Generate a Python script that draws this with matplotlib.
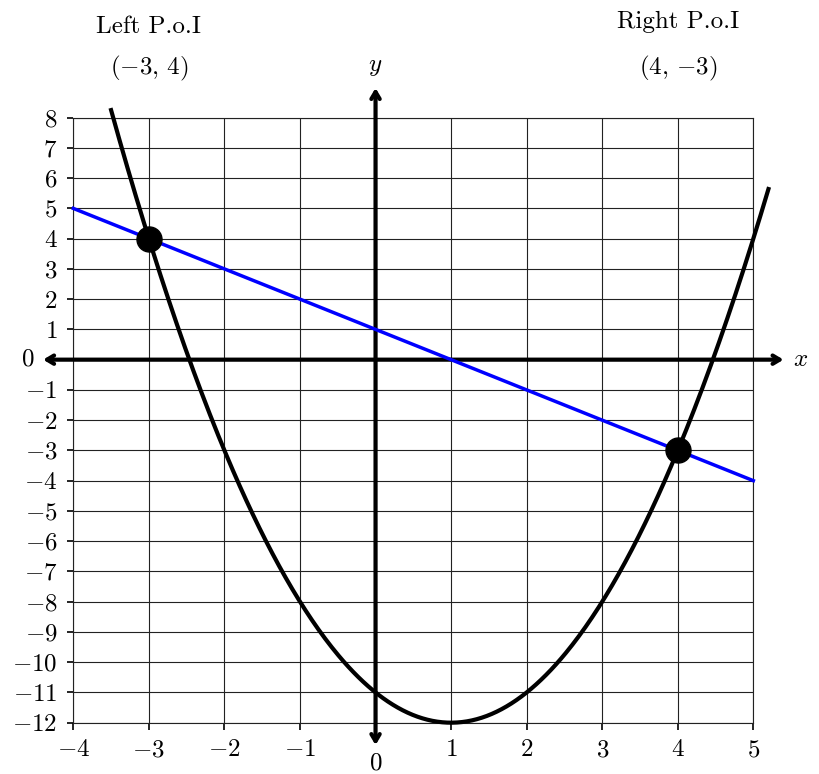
import numpy as np
import matplotlib
matplotlib.use("Agg")
import matplotlib.pyplot as plt

plt.rcParams["font.family"] = "serif"
plt.rcParams["font.serif"] = ["cmr10", "DejaVu Serif"]
plt.rcParams["mathtext.fontset"] = "cm"
plt.rcParams["axes.formatter.use_mathtext"] = True

# datos de la grafica
x_ticks = list(range(-4, 6))
y_ticks = list(range(-12, 9))
parabola_coef = [1, -2, -11]      # y = x^2 - 2x - 11
parabola_domain = [-3.5, 5.2]
line_x = [-4, 5]
line_y = [5, -4]
poi_x = [-3, 4]
poi_y = [4, -3]
poi_names = ["Left P.o.I", "Right P.o.I"]
name_heights = [10.80, 10.96]

FS = 18

fig = plt.figure(figsize=(8.2, 7.74), dpi=100)
ax = fig.add_axes([0.0894, 0.0663, 0.8293, 0.7817])
ax.set_xlim(-4, 5)
ax.set_ylim(-12, 8)

# rejilla
ax.set_xticks(x_ticks)
ax.set_yticks(y_ticks)
ax.grid(True, color="#222222", linewidth=0.8)
for s in ax.spines.values():
    s.set_linewidth(0.8)
    s.set_color("#222222")
ax.set_xticklabels(["" if v == 0 else f"${v}$" for v in x_ticks], fontsize=FS)
ax.set_yticklabels(["" if v == 0 else f"${v}$" for v in y_ticks], fontsize=FS)
ax.tick_params(axis="x", length=5, width=1.2, pad=7, direction="out")
ax.tick_params(axis="y", length=4.5, width=1.2, pad=7, direction="out")

# ejes con flechas
arrow = dict(arrowstyle="<->,head_length=0.5,head_width=0.3", lw=3, color="black",
             shrinkA=0, shrinkB=0)
ax.annotate("", xy=(5.40, 0), xytext=(-4.40, 0), arrowprops=arrow,
            annotation_clip=False, zorder=3)
ax.annotate("", xy=(0, 8.98), xytext=(0, -12.74), arrowprops=arrow,
            annotation_clip=False, zorder=3)
ax.text(5.62, 0, "$x$", fontsize=FS, ha="center", va="center")
ax.text(0, 9.67, "$y$", fontsize=FS, ha="center", va="center")
ax.text(-4.6, 0, "$0$", fontsize=FS, ha="center", va="center")
ax.text(0, -13.35, "$0$", fontsize=FS, ha="center", va="center")

# curvas
xs = np.linspace(parabola_domain[0], parabola_domain[1], 400)
ax.plot(xs, np.polyval(parabola_coef, xs), color="black", lw=3.0,
        clip_on=False, zorder=4)
ax.plot(line_x, line_y, color="#0000ff", lw=2.5, clip_on=False, zorder=4)
ax.plot(poi_x, poi_y, "o", color="black", markersize=18, clip_on=False, zorder=5)

# etiquetas de los puntos
for px, py, name, hy in zip(poi_x, poi_y, poi_names, name_heights):
    ax.text(px, hy, name, fontsize=FS, ha="center", va="baseline")
    ax.text(px, 9.64, f"$({{{px}}},\\,{{{py}}})$", fontsize=FS, ha="center", va="center")

fig.savefig("out.png", dpi=100)
